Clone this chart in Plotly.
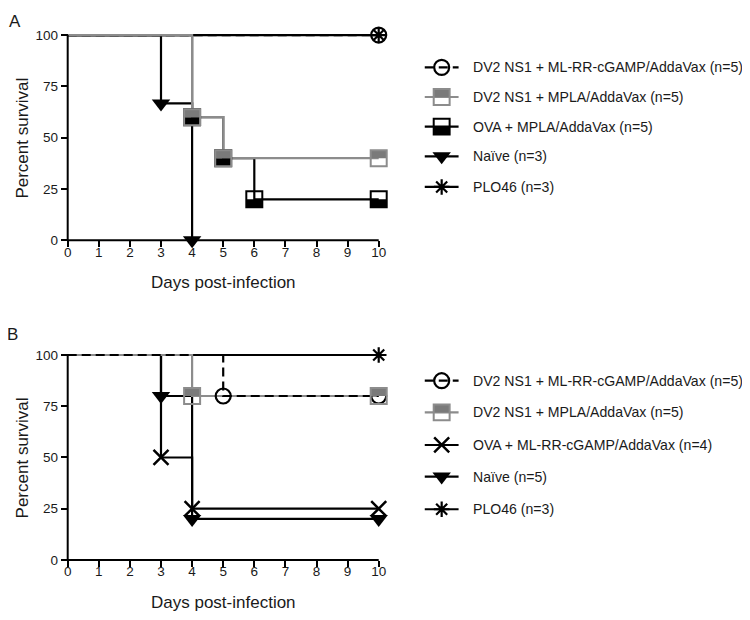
import plotly.graph_objects as go

# ---- Panel A: day of each step and percent survival after it ----
a_cgamp_days = [0, 10]
a_cgamp_surv = [100, 100]
a_mpla_days = [0, 4, 5, 10]
a_mpla_surv = [100, 60, 40, 40]
a_ova_days = [0, 4, 5, 6, 10]
a_ova_surv = [100, 60, 40, 20, 20]
a_naive_days = [0, 3, 4]
a_naive_surv = [100, 66.7, 0]
a_plo_days = [0, 10]
a_plo_surv = [100, 100]

# ---- Panel B ----
b_cgamp_days = [0, 5, 10]
b_cgamp_surv = [100, 80, 80]
b_mpla_days = [0, 4, 10]
b_mpla_surv = [100, 80, 80]
b_ova_days = [0, 3, 4, 10]
b_ova_surv = [100, 50, 25, 25]
b_naive_days = [0, 3, 4, 10]
b_naive_surv = [100, 80, 20, 20]
b_plo_days = [0, 10]
b_plo_surv = [100, 100]

legend_a = ['DV2 NS1 + ML-RR-cGAMP/AddaVax (n=5)', 'DV2 NS1 + MPLA/AddaVax (n=5)',
            'OVA + MPLA/AddaVax (n=5)', 'Naïve (n=3)', 'PLO46 (n=3)']
legend_b = ['DV2 NS1 + ML-RR-cGAMP/AddaVax (n=5)', 'DV2 NS1 + MPLA/AddaVax (n=5)',
            'OVA + ML-RR-cGAMP/AddaVax (n=4)', 'Naïve (n=5)', 'PLO46 (n=3)']
day_ticks = list(range(11))
pct_ticks = [0, 25, 50, 75, 100]

# page body has an 8px margin, so the figure is shifted by that much
OFF = 8
W, H = 750 - OFF, 620 - OFF

FONT = 'Liberation Sans, Arial, sans-serif'
BLACK = '#000000'
GRAY = '#8c8c8c'
GRAYFILL = '#7a7a7a'
TXT = '#1a1a1a'
LW = 2.2
SQ = 8

STYLE = {
    'circle': dict(color=BLACK, dash='dash', symbol='circle-open', size=15, lw=2.2),
    'sqgray': dict(color=GRAY, dash='solid', symbol=None),
    'sqblack': dict(color=BLACK, dash='solid', symbol=None),
    'tri': dict(color=BLACK, dash='solid', symbol='triangle-down', size=16, lw=0),
    'star': dict(color=BLACK, dash='solid', symbol='asterisk-open', size=13, lw=2.2),
    'x': dict(color=BLACK, dash='solid', symbol='x-thin-open', size=15, lw=2.5),
}


def fx(px):
    return (px - OFF) / W


def fy(px):
    return 1 - (px - OFF) / H


# panel geometry (reference pixel positions)
XPX0, XPERDAY = 64, 31.27
XMAX = 10.35
YLO, YHI = -2, 102
x_dom = [fx(XPX0), fx(XPX0 + XPERDAY * XMAX)]


def y_dom(px0, px100):
    per = (px0 - px100) / 100
    return [fy(px0 - YLO * per), fy(px100 - (YHI - 100) * per)]


A0, A100 = 240, 32.3
B0, B100 = 563.3, 356
a_dom = y_dom(A0, A100)
b_dom = y_dom(B0, B100)

fig = go.Figure()
shapes = []


def half_square(xr, yr, x, y, kind):
    col = GRAY if kind == 'sqgray' else BLACK
    fill = GRAYFILL if kind == 'sqgray' else BLACK
    h0, h1 = (0, SQ) if kind == 'sqgray' else (-SQ, 0)
    base = dict(xref=xr, yref=yr, xsizemode='pixel', ysizemode='pixel', xanchor=x, yanchor=y)
    shapes.append(dict(type='rect', x0=-SQ, x1=SQ, y0=h0, y1=h1, fillcolor=fill,
                       line=dict(width=0), **base))
    shapes.append(dict(type='rect', x0=-SQ, x1=SQ, y0=-SQ, y1=SQ, fillcolor='rgba(0,0,0,0)',
                       line=dict(color=col, width=2), **base))


def add_series(days, surv, kind, xa, ya):
    st = STYLE[kind]
    fig.add_trace(go.Scatter(x=days, y=surv, mode='lines', xaxis=xa, yaxis=ya,
                             line=dict(shape='hv', color=st['color'], width=LW,
                                       dash='9px,5px' if st['dash'] == 'dash' else 'solid'),
                             hoverinfo='skip', showlegend=False))
    if st['symbol'] is None:
        for d, s in zip(days[1:], surv[1:]):
            half_square(xa, ya, d, s, kind)
    else:
        fig.add_trace(go.Scatter(x=days[1:], y=surv[1:], mode='markers', xaxis=xa, yaxis=ya,
                                 cliponaxis=False,
                                 marker=dict(symbol=st['symbol'], size=st['size'], color=BLACK,
                                             line=dict(color=BLACK, width=st['lw'])),
                                 hoverinfo='skip', showlegend=False))


# panel A (gray curve drawn on top)
add_series(a_plo_days, a_plo_surv, 'star', 'x', 'y')
add_series(a_cgamp_days, a_cgamp_surv, 'circle', 'x', 'y')
add_series(a_naive_days, a_naive_surv, 'tri', 'x', 'y')
add_series(a_ova_days, a_ova_surv, 'sqblack', 'x', 'y')
add_series(a_mpla_days, a_mpla_surv, 'sqgray', 'x', 'y')

# panel B (dashed curve on top)
add_series(b_plo_days, b_plo_surv, 'star', 'x2', 'y2')
add_series(b_naive_days, b_naive_surv, 'tri', 'x2', 'y2')
add_series(b_ova_days, b_ova_surv, 'x', 'x2', 'y2')
add_series(b_mpla_days, b_mpla_surv, 'sqgray', 'x2', 'y2')
add_series(b_cgamp_days, b_cgamp_surv, 'circle', 'x2', 'y2')

# axis lines, ending exactly at day 10 and 100 %
for xr, yr in [('x', 'y'), ('x2', 'y2')]:
    shapes.append(dict(type='line', xref=xr, yref=yr, x0=0, x1=10, y0=0, y1=0,
                       line=dict(color=BLACK, width=2)))
    shapes.append(dict(type='line', xref=xr + ' domain', yref=yr, x0=0, x1=0, y0=0, y1=100,
                       line=dict(color=BLACK, width=2)))

annotations = []

# hand-built legends on a full-figure overlay axis (reference pixels)
LX0, LX1, LXM, LTX = 423, 457, 440, 469
rows_a = [65, 95, 125, 155, 186]
rows_b = [382, 414, 447, 479, 512]
kinds_a = ['circle', 'sqgray', 'sqblack', 'tri', 'star']
kinds_b = ['circle', 'sqgray', 'x', 'tri', 'star']
for rows, kinds, labels in [(rows_a, kinds_a, legend_a), (rows_b, kinds_b, legend_b)]:
    for r, k, lab in zip(rows, kinds, labels):
        st = STYLE[k]
        shapes.append(dict(type='line', xref='x3', yref='y3', x0=LX0, x1=LX1, y0=r, y1=r,
                           line=dict(color=st['color'], width=LW,
                                     dash='9px,5px' if st['dash'] == 'dash' else 'solid')))
        if st['symbol'] is None:
            col = GRAY if k == 'sqgray' else BLACK
            fill = GRAYFILL if k == 'sqgray' else BLACK
            h = (r - SQ, r) if k == 'sqgray' else (r, r + SQ)
            shapes.append(dict(type='rect', xref='x3', yref='y3', x0=LXM - SQ, x1=LXM + SQ,
                               y0=h[0], y1=h[1], fillcolor=fill, line=dict(width=0)))
            shapes.append(dict(type='rect', xref='x3', yref='y3', x0=LXM - SQ, x1=LXM + SQ,
                               y0=r - SQ, y1=r + SQ, fillcolor='rgba(0,0,0,0)',
                               line=dict(color=col, width=2)))
        else:
            fig.add_trace(go.Scatter(x=[LXM], y=[r], mode='markers', xaxis='x3', yaxis='y3',
                                     cliponaxis=False,
                                     marker=dict(symbol=st['symbol'], size=st['size'], color=BLACK,
                                                 line=dict(color=BLACK, width=st['lw'])),
                                     hoverinfo='skip', showlegend=False))
        annotations.append(dict(text=lab, x=fx(LTX), y=fy(r), xref='paper', yref='paper',
                                xanchor='left', yanchor='middle', showarrow=False,
                                font=dict(size=14.1, color=TXT, family=FONT)))

# axis titles and panel letters
for mid in [(A0 + A100) / 2, (B0 + B100) / 2]:
    annotations.append(dict(text='Percent survival', x=fx(19), y=fy(mid), xref='paper',
                            yref='paper', textangle=-90, showarrow=False,
                            xanchor='center', yanchor='middle',
                            font=dict(size=17, color=TXT, family=FONT)))
for ypx in [283, 606]:
    annotations.append(dict(text='Days post-infection', x=fx(XPX0 + 5 * XPERDAY), y=fy(ypx),
                            xref='paper', yref='paper', showarrow=False,
                            xanchor='center', yanchor='middle',
                            font=dict(size=17, color=TXT, family=FONT)))
annotations.append(dict(text='A', x=fx(11), y=1, xref='paper', yref='paper', borderpad=0,
                        showarrow=False, xanchor='center', yanchor='top',
                        font=dict(size=17, color=TXT, family=FONT)))
annotations.append(dict(text='B', x=fx(9), y=fy(335), xref='paper', yref='paper',
                        showarrow=False, xanchor='center', yanchor='middle',
                        font=dict(size=17, color=TXT, family=FONT)))


def xaxis_cfg(pos):
    return dict(domain=x_dom, range=[0, XMAX], anchor='free', position=pos,
                tickvals=day_ticks, ticks='outside', ticklen=6, tickwidth=2, tickcolor=BLACK,
                showline=False, showgrid=False, zeroline=False, ticklabelstandoff=-7,
                tickfont=dict(size=13.5, color=TXT, family=FONT))


def yaxis_cfg(dom):
    return dict(domain=dom, range=[YLO, YHI], anchor='free', position=x_dom[0],
                tickvals=pct_ticks, ticks='outside', ticklen=7, tickwidth=2, tickcolor=BLACK,
                showline=False, showgrid=False, zeroline=False, ticklabelstandoff=0,
                tickfont=dict(size=13.5, color=TXT, family=FONT))


fig.update_layout(
    width=W, height=H,
    margin=dict(l=0, r=0, t=0, b=0),
    paper_bgcolor='white', plot_bgcolor='rgba(0,0,0,0)',
    xaxis=xaxis_cfg(fy(A0)),
    yaxis=yaxis_cfg(a_dom),
    xaxis2=xaxis_cfg(fy(B0)),
    yaxis2=yaxis_cfg(b_dom),
    xaxis3=dict(domain=[0, 1], range=[OFF, OFF + W], anchor='y3', visible=False, fixedrange=True),
    yaxis3=dict(domain=[0, 1], range=[OFF + H, OFF], anchor='x3', visible=False, fixedrange=True),
    shapes=shapes,
    annotations=annotations,
    showlegend=False,
    font=dict(family=FONT, color=TXT),
)

fig.write_html("out.html")
